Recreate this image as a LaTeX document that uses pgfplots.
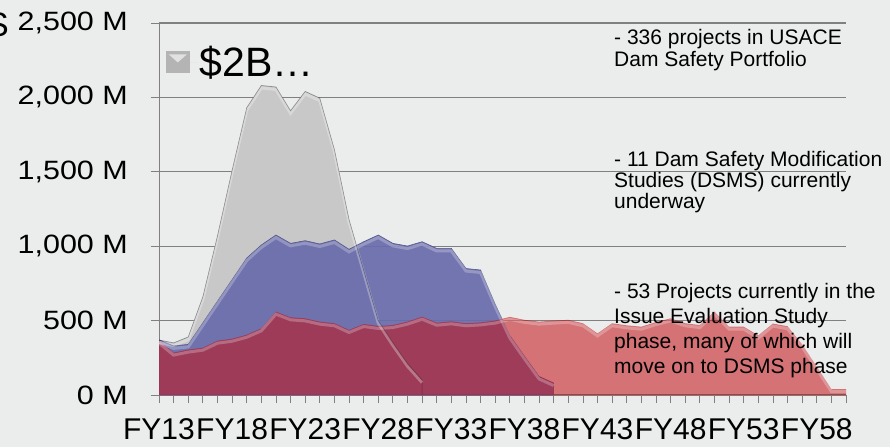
\documentclass[border=0pt]{standalone}
\usepackage{pgfplots}
\pgfplotsset{compat=1.18}
\usepackage{pgfplotstable}
\usepackage{fontspec}
\setmainfont{Liberation Sans}
\newfontfamily\widesans[FakeStretch=1.15]{Liberation Sans}

\definecolor{bgcol}{RGB}{234,237,236}
\definecolor{gridcol}{RGB}{128,128,128}
\definecolor{graycol}{RGB}{200,200,200}
\definecolor{bluecol}{RGB}{106,108,172}
\definecolor{redcol}{RGB}{195,14,20}

% Portfolio total (FY13 = 0)
\pgfplotstableread{
i v
0 370
1 350
2 390
3 660
4 1070
5 1510
6 1930
7 2080
8 2070
9 1910
10 2040
11 1995
12 1650
13 1180
14 840
15 500
16 350
17 210
18 100
18 0
}\graytab

% Dam Safety Modification Studies
\pgfplotstableread{
i v
0 370
1 330
2 340
3 485
4 630
5 775
6 920
7 1008
8 1075
9 1019
10 1037
11 1015
12 1042
13 979
14 1030
15 1075
16 1019
17 1001
18 1030
19 985
20 985
21 850
22 840
23 610
24 400
25 260
26 125
27 80
27 0
}\bluetab

% Issue Evaluation Studies
\pgfplotstableread{
i v
0 365
1 285
2 305
3 318
4 365
5 378
6 405
7 448
8 560
9 522
10 515
11 493
12 482
13 437
14 477
15 464
16 470
17 493
18 526
19 486
20 495
21 482
22 488
23 500
24 525
25 505
26 493
27 500
28 505
29 482
30 414
31 482
32 468
33 459
34 490
35 515
36 482
37 470
38 560
39 459
40 459
41 400
42 480
43 462
44 340
45 190
46 40
47 40
}\redtab

\begin{document}
\begin{tikzpicture}[x=1pt,y=1pt]
\fill[bgcol] (0,0) rectangle (890,447);
\path[use as bounding box] (0,0) rectangle (890,447);

\begin{axis}[
  at={(159pt,52pt)}, anchor=south west,
  scale only axis, width=687pt, height=372pt,
  xmin=0, xmax=47, ymin=0, ymax=2500,
  axis x line*=bottom, axis y line*=left,
  axis line style={draw=gridcol, line width=1pt, -},
  ytick={0,500,...,2500},
  yticklabels={{0 M},{500 M},{1,000 M},{1,500 M},{2,000 M},{2,500 M}},
  xtick={0,5,...,45},
  xticklabels={FY13,FY18,FY23,FY28,FY33,FY38,FY43,FY48,FY53,FY58},
  minor xtick={0,...,47},
  tick align=outside, major tick length=8pt, minor tick length=8pt,
  tick style={draw=gridcol, line width=0.8pt},
  ymajorgrids, grid style={draw=gridcol, line width=1.2pt},
  xticklabel style={font=\fontsize{30}{36}\selectfont, anchor=north, inner sep=0pt, yshift=-15pt},
  yticklabel style={font=\widesans\fontsize{26.5}{32}\selectfont, anchor=east, inner sep=0pt, xshift=-23pt},
  legend style={draw=none, fill=none, at={(axis cs:0.45,2235)}, anchor=west,
    font=\fontsize{41}{48}\selectfont, inner sep=0pt},
  legend image code/.code={
    \path (0pt,0pt) -- (32pt,0pt);
    \fill[graycol!90!black] (0pt,-11pt) rectangle (24pt,11pt);
    \fill[white, opacity=0.6] (3pt,8pt) -- (12pt,0pt) -- (21pt,8pt) -- cycle;
  },
]
\addplot[fill=graycol, draw=none] table[x=i, y=v] {\graytab} \closedcycle;
\addlegendentry{\$2B…}
\addplot[fill=bluecol, fill opacity=0.93, draw=bluecol!80!black, line width=0.6pt, forget plot] table[x=i, y=v] {\bluetab} \closedcycle;
\addplot[fill=redcol, fill opacity=0.55, draw=none, forget plot] table[x=i, y=v] {\redtab} \closedcycle;
% soft highlight along the top edges
\addplot[draw=white, line width=3pt, opacity=0.3, yshift=-2.5pt, skip coords between index={19}{20}, forget plot] table[x=i, y=v] {\graytab};
\addplot[draw=white, line width=3pt, opacity=0.25, yshift=-2.5pt, skip coords between index={28}{29}, forget plot] table[x=i, y=v] {\bluetab};
\addplot[draw=white, line width=3pt, opacity=0.25, yshift=-2.5pt, forget plot] table[x=i, y=v] {\redtab};
% outline of the total, seen through the other layers
\addplot[draw=black, opacity=0.35, line width=0.7pt, forget plot] table[x=i, y=v] {\graytab};
\end{axis}

\node[anchor=base east, inner sep=0pt, font=\fontsize{34}{40}\selectfont] at (9,410) {S};

\begin{scope}[every node/.style={anchor=base west, inner sep=0pt, font=\fontsize{21}{25}\selectfont}]
\node at (614,402) {- 336 projects in USACE};
\node at (614,380.3) {Dam Safety Portfolio};
\node at (614,280.3) {- 11 Dam Safety Modification};
\node at (614,259.5) {Studies (DSMS) currently};
\node at (614,238.7) {underway};
\node at (614,148.7) {- 53 Projects currently in the};
\node at (614,123.7) {Issue Evaluation Study};
\node at (614,98.7) {phase, many of which will};
\node at (614,73.7) {move on to DSMS phase};
\end{scope}
\end{tikzpicture}
\end{document}
